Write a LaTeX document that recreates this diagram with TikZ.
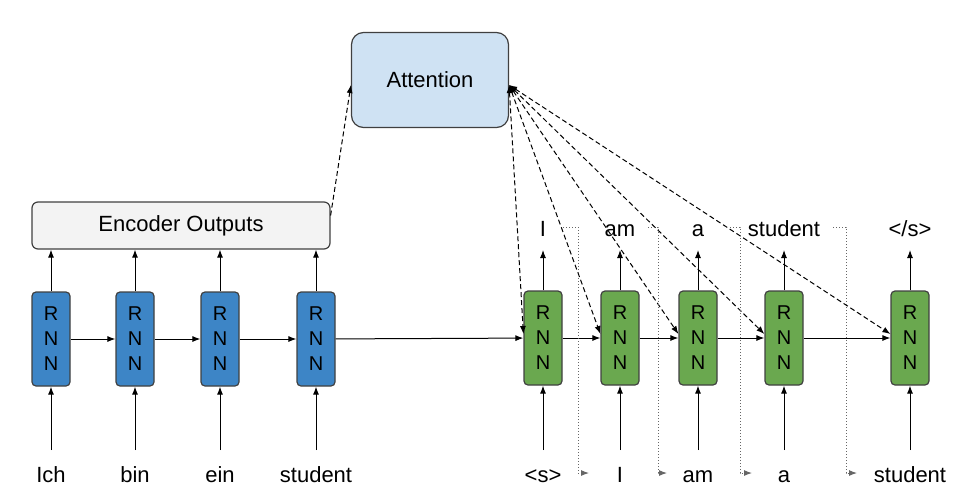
\documentclass[tikz,border=0pt]{standalone}
\usepackage{fontspec}
\setmainfont{Liberation Sans}
\usetikzlibrary{arrows.meta}
\definecolor{encblue}{HTML}{3D85C6}
\definecolor{decgreen}{HTML}{6AA84F}
\definecolor{attblue}{HTML}{CFE2F3}
\definecolor{outgray}{HTML}{F3F3F3}
\definecolor{edgegray}{HTML}{404040}
\tikzset{
  box/.style={draw=edgegray, line width=0.6pt, font=\fontsize{11}{13}\selectfont},
  rnn/.style={draw=edgegray, line width=0.6pt, rounded corners=2pt, minimum width=19pt, minimum height=47pt,
    inner sep=0pt, align=center, font=\fontsize{10}{12.5}\selectfont},
  word/.style={anchor=base, inner sep=0pt, text height=8pt, text depth=2pt, font=\fontsize{11}{13}\selectfont},
  inword/.style={word, outer ysep=8pt},
  outword/.style={word, outer ysep=5pt},
  attn/.style={dash pattern=on 2.5pt off 1.5pt},
  feed/.style={->, black!60, dash pattern=on 0.5pt off 1pt},
}
\begin{document}
\begin{tikzpicture}[>={Latex[length=4pt,width=3pt]}, x=0.5pt, y=-0.5pt, line width=0.5pt]
\useasboundingbox (0,0) rectangle (974,499);
\node [box, fill=attblue, minimum width=78.5pt, minimum height=47.5pt, rounded corners=6pt] (att) at (430,80) {Attention};
\node [box, fill=outgray, minimum width=149pt, minimum height=23.5pt, rounded corners=3pt] (eo) at (181,225.5) {Encoder Outputs};

% encoder
\foreach \x/\w [count=\i] in {51/Ich, 135/bin, 220/ein, 316/student}{
  \node [rnn, fill=encblue] (e\i) at (\x,339) {R\\N\\N};
  \node [inword] (x\i) at (\x,482) {\w};
  \draw [->] (x\i) -- (e\i);
  \draw [->] (e\i) -- (e\i |- eo.south);
}
\foreach \i [count=\j from 2] in {1,2,3} \draw [->] (e\i) -- (e\j);
\draw [attn,->] ([yshift=5pt]eo.east) -- ([yshift=-2.5pt]att.west);

% decoder
\foreach \x/\w/\v [count=\i] in {543/{<s>}/I, 620/I/am, 698/am/a, 784/a/student, 910/student/{</s>}}{
  \node [rnn, fill=decgreen] (d\i) at (\x,338) {R\\N\\N};
  \node [inword] (y\i) at (\x,482) {\w};
  \node [outword] (o\i) at (\x,236) {\v};
  \draw [->] (y\i) -- (d\i);
  \draw [->] (d\i) -- (o\i);
  \draw [attn,<->] ([yshift=-2.5pt]att.east) -- ([yshift=2pt]d\i.west);
}
\draw [->] (e4) -- (d1);
\foreach \i [count=\j from 2] in {1,2,3,4} \draw [->] (d\i) -- (d\j);

% fed back outputs
\foreach \a/\b/\c in {563/578/589, 648/658/667, 730/740/752, 833/846/857}
  \draw [feed] (\a,227) -| (\b,473) -- (\c,473);

\end{tikzpicture}
\end{document}
